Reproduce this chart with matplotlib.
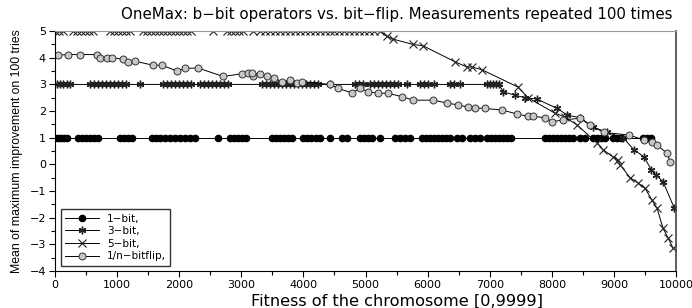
import numpy as np
import matplotlib
matplotlib.use("Agg")
from matplotlib import pyplot as plt
from matplotlib.ticker import MultipleLocator, FuncFormatter

plt.rcParams['font.family'] = ['DejaVu Sans']

# 1-bit operator: always 1
x_1bit = [0, 50, 100, 145, 195, 370, 435, 500, 565, 630, 690, 1045, 1110, 1175, 1240,
          1560, 1625, 1690, 1770, 1850, 1930, 2010, 2095, 2175, 2255, 2625,
          2820, 2885, 2945, 3010, 3075, 3495, 3560, 3625, 3690, 3750, 3815,
          3995, 4060, 4120, 4200, 4265, 4430, 4620, 4700, 4910, 4975, 5040, 5105,
          5235, 5475, 5555, 5635, 5715, 5910, 5975, 6040, 6100, 6170, 6230, 6295, 6360,
          6475, 6555, 6685, 6765, 6845, 6955, 7020, 7085, 7150, 7215, 7280, 7345,
          7890, 7955, 8020, 8085, 8150, 8210, 8275, 8340, 8455, 8535,
          8665, 8730, 8790, 8855, 8985, 9050, 9115, 9470, 9535, 9600]
y_1bit = [1.0] * len(x_1bit)

# 3-bit operator
x_3bit = [30, 80, 130, 195, 240, 565, 630, 690, 755, 820, 885, 950, 1015, 1080, 1145,
          1370, 1740, 1805, 1870, 1930, 1995, 2060, 2125, 2190,
          2335, 2400, 2465, 2530, 2595, 2655, 2720, 2785,
          3335, 3400, 3460, 3525, 3590, 3655, 3720, 3785, 3850, 3910, 3975, 4040, 4105, 4170, 4235,
          4430, 4830, 4895, 4960, 5070, 5135, 5200, 5265, 5330, 5395, 5460, 5520,
          5670, 5875, 5940, 6005, 6100, 6360, 6425, 6520, 6955, 7005, 7050, 7100, 7150,
          7215, 7400, 7570, 7760, 8085, 8250, 8455, 8665, 8890, 9150,
          9320, 9485, 9600, 9680, 9790, 9970]
y_3bit = [3.0] * 72 + [2.72, 2.6, 2.5, 2.45, 2.1, 1.85, 1.75, 1.4, 1.2, 1.0,
                       0.55, 0.28, -0.2, -0.4, -0.65, -1.63]

# 5-bit operator
x_5bit = [0, 65, 130, 290, 355, 420, 485, 545, 610, 885, 950, 1015, 1080, 1145, 1210,
          1415, 1480, 1545, 1610, 1675, 1740, 1805, 1870, 1935, 2000, 2065, 2130, 2195,
          2545, 2770, 2835, 2900, 2960, 3025, 3190,
          3300, 3380, 3460, 3540, 3620, 3700, 3780, 3860, 3940, 4020, 4100, 4180, 4260,
          4340, 4420, 4500, 4580, 4660, 4740, 4820, 4900, 4980, 5060, 5140,
          5235, 5345, 5440, 5765, 5925, 6440, 6635, 6715, 6875, 7455, 7615,
          8050, 8210, 8405, 8730, 8825, 8985, 9065, 9100, 9260, 9390, 9500,
          9615, 9695, 9790, 9870, 9950]
y_5bit = [5.0] * 59 + [5.0, 4.8, 4.7, 4.5, 4.45, 3.85, 3.65, 3.65, 3.55, 2.9, 2.5,
                       1.92, 1.78, 1.48, 0.8, 0.55, 0.28, 0.16, -0.02, -0.5, -0.7, -0.9,
                       -1.35, -1.65, -2.4, -2.75, -3.14]

# 1/n bitflip
x_flip = [50, 210, 400, 675, 725, 835, 915, 1090, 1175, 1290, 1580, 1725, 1965, 2095, 2300,
          2705, 3010, 3110, 3190, 3175, 3300, 3410, 3525, 3655, 3780, 3895, 3975,
          4430, 4560, 4785, 4910, 5040, 5200, 5360, 5590, 5765, 6090, 6315, 6490, 6650,
          6765, 6925, 7200, 7440, 7620, 7700, 7890, 8005, 8185, 8455, 8615,
          8840, 9245, 9480, 9610, 9690, 9855, 9905]
y_flip = [4.1, 4.12, 4.12, 4.12, 4.0, 4.0, 4.0, 3.95, 3.85, 3.87, 3.72, 3.72, 3.5, 3.6, 3.62,
          3.3, 3.4, 3.42, 3.3, 3.42, 3.38, 3.3, 3.25, 3.1, 3.15, 3.05, 3.1,
          3.0, 2.85, 2.68, 2.85, 2.73, 2.67, 2.67, 2.54, 2.41, 2.41, 2.3, 2.23, 2.15,
          2.12, 2.1, 2.04, 1.89, 1.8, 1.8, 1.75, 1.6, 1.67, 1.73, 1.47,
          1.2, 1.1, 0.92, 0.85, 0.73, 0.42, 0.1]

fig = plt.figure(figsize=(6.92, 3.08), dpi=100)
ax = fig.add_axes([0.0795, 0.12, 0.8975, 0.779])

ax.plot(x_1bit, y_1bit, color='black', lw=0.7, marker='o', ms=4.5,
        mfc='black', mec='black', label='1\u2212bit,')
ax.plot(x_3bit, y_3bit, color='black', lw=0.7, marker=(6, 2, 0), ms=5.5,
        mec='#222222', mew=1.0, label='3\u2212bit,')
ax.plot(x_5bit, y_5bit, color='black', lw=0.7, marker='x', ms=6,
        mec='#222222', mew=0.8, label='5\u2212bit,')
ax.plot(x_flip, y_flip, color='black', lw=0.7, marker='o', ms=5,
        mfc='#c8c8c8', mec='#333333', mew=0.7, label='1/n\u2212bitflip,')

ax.set_xlim(0, 10000)
ax.set_ylim(-4, 5)
ax.xaxis.set_major_locator(MultipleLocator(1000))
ax.xaxis.set_minor_locator(MultipleLocator(500))
ax.yaxis.set_major_locator(MultipleLocator(1))
ax.yaxis.set_minor_locator(MultipleLocator(0.5))
ax.yaxis.set_major_formatter(FuncFormatter(lambda v, p: ('%d' % v).replace('-', '\u2212')))
ax.tick_params(which='major', direction='out', length=4, width=0.8, labelsize=8, pad=2.5)
ax.tick_params(which='minor', direction='out', length=3, width=0.8)

ax.spines['top'].set_color('#999999')
ax.spines['right'].set_color('#444444')
ax.spines['right'].set_linewidth(1.2)

ax.set_title('OneMax: b\u2212bit operators vs. bit\u2212flip. Measurements repeated 100 times',
             fontsize=10.8, x=0.55, pad=9)
ax.set_xlabel('Fitness of the chromosome [0,9999]', fontsize=11.6, va='center')
ax.xaxis.set_label_coords(0.55, -0.125)
ax.set_ylabel('Mean of maximum improvement on 100 tries', fontsize=8.8,
              family=['Liberation Sans'], va='center')
ax.yaxis.set_label_coords(-0.062, 0.5)

leg = ax.legend(loc='lower left', fontsize=7.5, handlelength=3.2, frameon=True,
                fancybox=False, borderaxespad=0.3, labelspacing=0.25,
                bbox_to_anchor=(0.005, 0.01))
leg.get_frame().set_edgecolor('black')
leg.get_frame().set_linewidth(1.0)

fig.savefig('out.png', dpi=100)
